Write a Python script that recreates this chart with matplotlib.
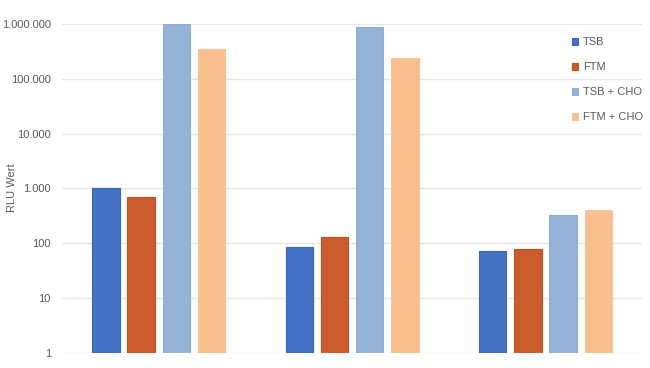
import numpy as np
import matplotlib.pyplot as plt
from matplotlib.ticker import FuncFormatter

plt.rcParams["font.family"] = ["Liberation Sans", "DejaVu Sans"]

series = ["TSB", "FTM", "TSB + CHO", "FTM + CHO"]
tsb = [1040, 87, 73]
ftm = [710, 130, 78]
tsb_cho = [1000000, 880000, 325]
ftm_cho = [350000, 235000, 410]
colors = ["#4472C4", "#CB5C2D", "#95B3D7", "#F9BF8F"]
edges = ["#3A66B8", "#C0501F", "#8FAED4", "#F7C49A"]

values = [tsb, ftm, tsb_cho, ftm_cho]

fig = plt.figure(figsize=(6.5, 3.68), dpi=100)
ax = fig.add_axes([0.0954, 0.0408, 0.8926, 0.894])

x = np.arange(3)
step = 0.182
width = 0.141
for i, (name, vals) in enumerate(zip(series, values)):
    ax.bar(x + (i - 1.5) * step, vals, width, bottom=0, color=colors[i],
           edgecolor=edges[i], linewidth=0.8, label=name, zorder=3)

ax.set_yscale("log")
ax.set_ylim(1, 1000000)
ax.set_xlim(-0.5, 2.5)
ax.set_yticks([1, 10, 100, 1000, 10000, 100000, 1000000])
ax.yaxis.set_major_formatter(FuncFormatter(lambda v, p: f"{int(round(v)):,}".replace(",", ".")))
ax.yaxis.set_minor_locator(plt.NullLocator())
ax.set_xticks([])
ax.tick_params(axis="y", length=0, labelsize=8, labelcolor="#595959", pad=8)
ax.grid(axis="y", color="#E6E6E6", linewidth=1, zorder=0)
for s in ax.spines.values():
    s.set_visible(False)

# y label placed by hand so it stays inside the figure
fig.text(12 / 650, 0.489, "RLU Wert", rotation=90, ha="center", va="center",
         fontsize=8, color="#595959")

leg = ax.legend(loc="upper left", bbox_to_anchor=(0.861, 0.99), frameon=False,
                fontsize=8, handlelength=0.6, handleheight=0.6,
                handletextpad=0.4, labelspacing=1.35)
for t in leg.get_texts():
    t.set_color("#595959")

fig.savefig("out.png", dpi=100)
